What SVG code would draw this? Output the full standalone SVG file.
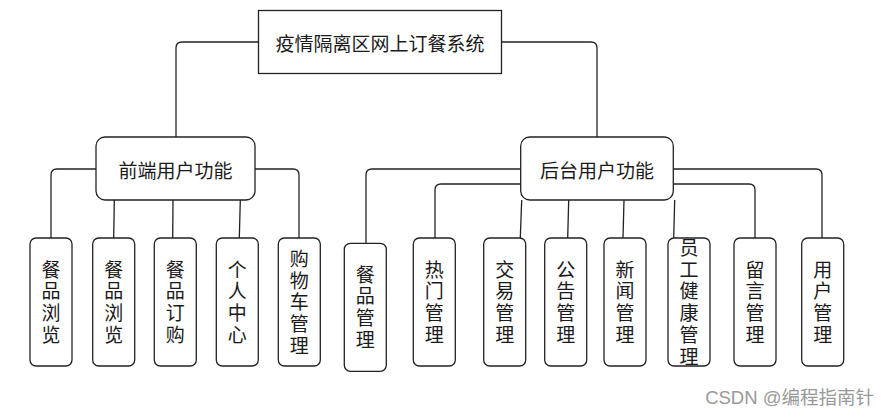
<svg xmlns="http://www.w3.org/2000/svg" width="890" height="417" viewBox="0 0 890 417">
<style>
.box{fill:#fff;stroke:#222;stroke-width:1.3}
.ln{fill:none;stroke:#222;stroke-width:1.3}
.t{font-family:"Noto Sans CJK SC","Noto Sans",sans-serif;font-size:19px;fill:#1a1a1a;text-anchor:middle;dominant-baseline:central}
.v{font-family:"Noto Sans CJK SC","Noto Sans",sans-serif;font-size:19px;fill:#1a1a1a;text-anchor:middle;writing-mode:vertical-rl;letter-spacing:2.7px}
.wm{font-family:"Liberation Sans","Noto Sans CJK SC",sans-serif;font-size:18.5px;fill:#999;text-anchor:end}
</style>
<rect width="890" height="417" fill="#fff"/>
<g id="connectors">
<path class="ln" d="M258.5,42 H182 Q176,42 176,48 V137"/>
<path class="ln" d="M501,42 H591 Q597,42 597,48 V137"/>
<path class="ln" d="M96,169 H57 Q51,169 51,175 V238"/>
<path class="ln" d="M255,169 H293 Q299,169 299,175 V238"/>
<path class="ln" d="M114.3,200 L113.7,238"/>
<path class="ln" d="M173,200 L172.7,238"/>
<path class="ln" d="M240.3,200 L239.3,238"/>
<path class="ln" d="M520.7,169 H372 Q366,169 366,175 V243"/>
<path class="ln" d="M520.7,184 H441 Q435,184 435,190 V238"/>
<path class="ln" d="M673.3,169 H816 Q822,169 822,175 V238"/>
<path class="ln" d="M673.3,184 H749 Q755,184 755,190 V238"/>
<path class="ln" d="M521.7,200 L520.3,238"/>
<path class="ln" d="M568.7,200 L567.7,238"/>
<path class="ln" d="M624,200 L623,238"/>
<path class="ln" d="M674.7,200 L673.7,238"/>
</g>
<g id="root">
<rect class="box" x="258.5" y="10.5" width="243" height="63"/>
<text class="t" x="380" y="42">疫情隔离区网上订餐系统</text>
</g>
<g id="front">
<rect class="box" x="96" y="137" width="159" height="63" rx="9"/>
<text class="t" x="175.5" y="169">前端用户功能</text>
</g>
<g id="back">
<rect class="box" x="520.7" y="137" width="152.6" height="63" rx="9"/>
<text class="t" x="597" y="169">后台用户功能</text>
</g>
<g id="n1">
<rect class="box" x="30" y="238" width="42" height="128" rx="6"/>
<text class="v" x="51" y="303.4">餐品浏览</text>
</g>
<g id="n2">
<rect class="box" x="92.7" y="238" width="42" height="128" rx="6"/>
<text class="v" x="113.7" y="303.4">餐品浏览</text>
</g>
<g id="n3">
<rect class="box" x="154.3" y="238" width="42" height="128" rx="6"/>
<text class="v" x="175.3" y="303.4">餐品订购</text>
</g>
<g id="n4">
<rect class="box" x="216.3" y="238" width="42" height="128" rx="6"/>
<text class="v" x="237.3" y="303.4">个人中心</text>
</g>
<g id="n5">
<rect class="box" x="278.3" y="238" width="42" height="128" rx="6"/>
<text class="v" x="299.3" y="303.4">购物车管理</text>
</g>
<g id="n6">
<rect class="box" x="344.3" y="243.3" width="42" height="128" rx="6"/>
<text class="v" x="365.3" y="308.4">餐品管理</text>
</g>
<g id="n7">
<rect class="box" x="413.3" y="238" width="42" height="128" rx="6"/>
<text class="v" x="434.3" y="303.4">热门管理</text>
</g>
<g id="n8">
<rect class="box" x="483.7" y="238" width="42" height="128" rx="6"/>
<text class="v" x="504.7" y="303.4">交易管理</text>
</g>
<g id="n9">
<rect class="box" x="544.7" y="238" width="42" height="128" rx="6"/>
<text class="v" x="565.7" y="303.4">公告管理</text>
</g>
<g id="n10">
<rect class="box" x="604" y="238" width="42" height="128" rx="6"/>
<text class="v" x="625" y="303.4">新闻管理</text>
</g>
<g id="n11">
<rect class="box" x="668" y="238" width="42" height="128" rx="6"/>
<text class="v" x="689" y="303.4">员工健康管理</text>
</g>
<g id="n12">
<rect class="box" x="734" y="238" width="42" height="128" rx="6"/>
<text class="v" x="755" y="303.4">留言管理</text>
</g>
<g id="n13">
<rect class="box" x="801.7" y="238" width="42" height="128" rx="6"/>
<text class="v" x="822.7" y="303.4">用户管理</text>
</g>
<text class="wm" x="874" y="404">CSDN @编程指南针</text>
</svg>
